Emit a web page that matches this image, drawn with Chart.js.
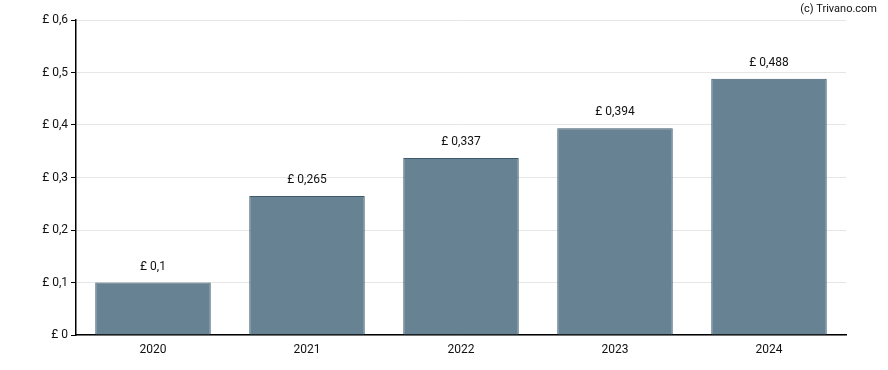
<!DOCTYPE html>
<html>
<head>
<meta charset="utf-8">
<script src="https://cdn.jsdelivr.net/npm/chart.js@4"></script>
<style>
  html, body { margin: 0; padding: 0; background: #fff; }
  #wrap { width: 888px; height: 370px; position: relative; }
</style>
</head>
<body>
<div id="wrap"><canvas id="dividendChart"></canvas></div>
<script>
// Data
const years = ['2020', '2021', '2022', '2023', '2024'];
const dividends = [0.1, 0.265, 0.337, 0.394, 0.488];
const yTicks = [0, 0.1, 0.2, 0.3, 0.4, 0.5, 0.6];

function formatPound(v) {
  return '£ ' + String(+v.toFixed(3)).replace('.', ',');
}

// Value labels above bars + copyright
const labelPlugin = {
  id: 'barLabels',
  afterDatasetsDraw(chart) {
    const ctx = chart.ctx;
    const meta = chart.getDatasetMeta(0);
    ctx.save();
    ctx.font = '12px Roboto';
    ctx.fillStyle = '#111';
    ctx.textAlign = 'center';
    ctx.textBaseline = 'middle';
    meta.data.forEach((bar, i) => {
      ctx.fillText(formatPound(dividends[i]), bar.x, bar.y - 16);
    });
    ctx.textAlign = 'right';
    ctx.font = '11px Roboto';
    ctx.fillText('(c) Trivano.com', 877, 9);
    ctx.restore();
  }
};

const ctx = document.getElementById('dividendChart').getContext('2d');
new Chart(ctx, {
  type: 'bar',
  data: {
    labels: years,
    datasets: [{
      data: dividends,
      backgroundColor: '#668293',
      borderColor: '#3e5b6e',
      borderWidth: 1,
      categoryPercentage: 1,
      barPercentage: 0.75
    }]
  },
  options: {
    responsive: true,
    maintainAspectRatio: false,
    animation: false,
    layout: { padding: { top: 20, right: 42, left: 0, bottom: 0 } },
    plugins: {
      legend: { display: false },
      tooltip: { enabled: false }
    },
    scales: {
      x: {
        grid: { display: false, drawTicks: true, tickLength: 5, tickColor: '#000' },
        border: { color: '#000', width: 1.5 },
        ticks: { color: '#111', font: { family: 'Roboto', size: 12 }, padding: 3 },
        afterFit(scale) { scale.height = 35; }
      },
      y: {
        min: 0,
        max: 0.6,
        afterBuildTicks(scale) {
          scale.ticks = yTicks.map(v => ({ value: v }));
        },
        grid: { color: '#e6e6e6', tickLength: 5, tickColor: '#000' },
        border: { color: '#000', width: 1.5 },
        ticks: {
          color: '#111',
          font: { family: 'Roboto', size: 12 },
          padding: 3,
          callback: v => formatPound(v)
        },
        afterFit(scale) { scale.width = 76; }
      }
    }
  },
  plugins: [labelPlugin]
});
</script>
</body>
</html>
